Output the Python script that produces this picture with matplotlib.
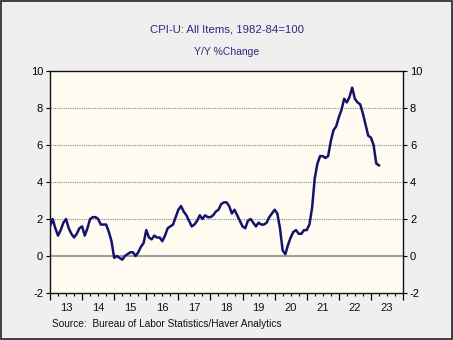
import matplotlib
matplotlib.use("Agg")
import matplotlib.pyplot as plt
import numpy as np
from matplotlib.patches import Rectangle

plt.rcParams['font.family'] = ['Liberation Sans', 'DejaVu Sans']

start_year = 2013
cpi_yoy = [
    1.6, 2.0, 1.5, 1.1, 1.4, 1.8, 2.0, 1.5, 1.2, 1.0, 1.2, 1.5,   # 2013
    1.6, 1.1, 1.5, 2.0, 2.1, 2.1, 2.0, 1.7, 1.7, 1.7, 1.3, 0.8,   # 2014
    -0.1, 0.0, -0.1, -0.2, 0.0, 0.1, 0.2, 0.2, 0.0, 0.2, 0.5, 0.7,  # 2015
    1.4, 1.0, 0.9, 1.1, 1.0, 1.0, 0.8, 1.1, 1.5, 1.6, 1.7, 2.1,   # 2016
    2.5, 2.7, 2.4, 2.2, 1.9, 1.6, 1.7, 1.9, 2.2, 2.0, 2.2, 2.1,   # 2017
    2.1, 2.2, 2.4, 2.5, 2.8, 2.9, 2.9, 2.7, 2.3, 2.5, 2.2, 1.9,   # 2018
    1.6, 1.5, 1.9, 2.0, 1.8, 1.6, 1.8, 1.7, 1.7, 1.8, 2.1, 2.3,   # 2019
    2.5, 2.3, 1.5, 0.3, 0.1, 0.6, 1.0, 1.3, 1.4, 1.2, 1.2, 1.4,   # 2020
    1.4, 1.7, 2.6, 4.2, 5.0, 5.4, 5.4, 5.3, 5.4, 6.2, 6.8, 7.0,   # 2021
    7.5, 7.9, 8.5, 8.3, 8.6, 9.1, 8.5, 8.3, 8.2, 7.7, 7.1, 6.5,   # 2022
    6.4, 6.0, 5.0, 4.9,                                           # 2023
]
year_labels = ['13', '14', '15', '16', '17', '18', '19', '20', '21', '22', '23']
y_ticks = [-2, 0, 2, 4, 6, 8, 10]
title = 'CPI-U: All Items, 1982-84=100'
subtitle = 'Y/Y %Change'
source = 'Source:  Bureau of Labor Statistics/Haver Analytics'

x = start_year + np.arange(len(cpi_yoy)) / 12.0

fig = plt.figure(figsize=(4.53, 3.40), dpi=100)
fig.patch.set_facecolor('#efefef')
fig.add_artist(Rectangle((0.002, 0.003), 0.995, 0.994, transform=fig.transFigure,
                         fill=False, edgecolor='#222222', linewidth=1.2))

ax = fig.add_axes([50/453, 1-293/340, 353/453, 222/340])
ax.set_facecolor('#fffbf0')
ax.set_xlim(2013, 2024)
ax.set_ylim(-2, 10)

for v in [2, 4, 6, 8]:
    ax.axhline(v, color='#888888', linestyle=(0, (1, 1)), linewidth=0.8, zorder=1)
ax.axhline(0, color='#a0a0a0', linewidth=1.5, zorder=1)

ax.plot(x, cpi_yoy, color='#13136e', linewidth=1.8, zorder=3)

ax.set_xticks(np.arange(2013, 2025))
ax.set_xticklabels([])
ax.set_xticks(np.arange(2013, 2024, 0.25), minor=True)
for i, lab in enumerate(year_labels):
    ax.text(2013.5 + i, -2.55, lab, ha='center', va='top', fontsize=8, color='#111111')
ax.tick_params(axis='x', which='major', length=5, direction='out', width=0.9)
ax.tick_params(axis='x', which='minor', length=2.5, direction='out', width=0.8)

ax.set_yticks(y_ticks)
ax.set_yticklabels([str(v) for v in y_ticks])
ax.tick_params(axis='y', which='major', length=3, direction='out', labelsize=8,
               left=True, right=True, labelleft=True, labelright=True, pad=2)

for s in ax.spines.values():
    s.set_color('#111111')
    s.set_linewidth(1.0)

fig.text(0.5, 1-29/340, title, ha='center', va='center', fontsize=8.2, color='#2b2b80')
fig.text(0.5, 1-52/340, subtitle, ha='center', va='center', fontsize=7.5, color='#2b2b80')
fig.text(52/453, 1-324/340, source, ha='left', va='center', fontsize=7.3, color='#111111')

fig.savefig('out.png', dpi=100, facecolor=fig.get_facecolor())
